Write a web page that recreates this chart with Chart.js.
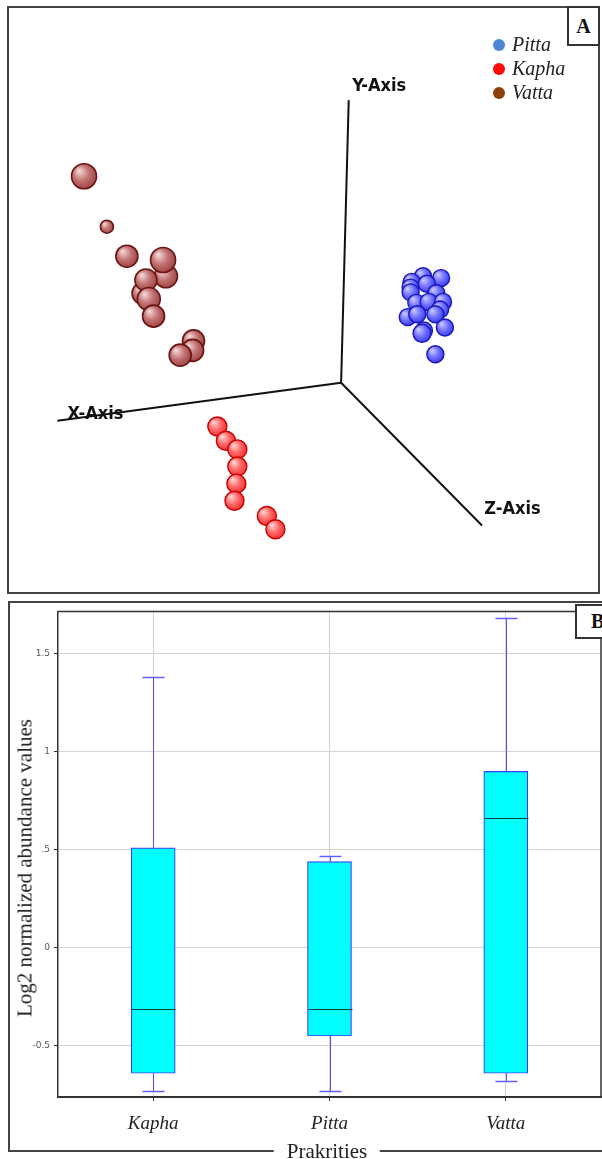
<!DOCTYPE html>
<html>
<head>
<meta charset="utf-8">
<script src="https://cdn.jsdelivr.net/npm/chart.js@4.4.1/dist/chart.umd.min.js"></script>
<style>
html,body{margin:0;padding:0;background:#fff;}
#wrap{position:relative;width:602px;height:1159px;overflow:hidden;background:#fff;}
.abs{position:absolute;box-sizing:border-box;}
#panelA{left:7px;top:6px;width:593px;height:588px;border:2px solid #444;}
#panelB{left:8px;top:601px;width:620px;height:551px;border:2px solid #444;}
#canA{left:9px;top:8px;}
#canB{left:8px;top:602px;}
.tag{background:#fff;border:2px solid #333;font:bold 20px "Liberation Serif","Times New Roman",serif;color:#111;display:flex;align-items:center;justify-content:center;}
.legrow{position:absolute;height:24px;line-height:24px;font:italic 20px "Liberation Serif","Times New Roman",serif;color:#222;white-space:nowrap;}
.dot{position:absolute;width:12px;height:12px;border-radius:50%;}
#ytitle{left:25px;top:868px;transform:translate(-50%,-50%) rotate(-90deg);white-space:nowrap;font:21px "Liberation Serif","Times New Roman",serif;color:#222;}
#xtitle{left:327px;top:1151px;transform:translate(-50%,-50%);white-space:nowrap;font:21px "Liberation Serif","Times New Roman",serif;color:#222;background:#fff;padding:0 13px;line-height:22px;}
</style>
</head>
<body>
<div id="wrap">
  <div id="panelA" class="abs"></div>
  <canvas id="canA" class="abs" width="589" height="583" style="width:589px;height:583px"></canvas>
  <div class="abs tag" style="left:567px;top:6px;width:33px;height:40px;">A</div>
  <div id="legend"></div>

  <div id="panelB" class="abs"></div>
  <canvas id="canB" class="abs" width="594" height="549" style="width:594px;height:549px"></canvas>
  <div class="abs tag" style="left:575px;top:604px;width:44px;height:35px;justify-content:flex-start;padding-left:14px;">B</div>
  <div id="ytitle" class="abs">Log2 normalized abundance values</div>
  <div id="xtitle" class="abs">Prakrities</div>
</div>

<script>
// ---------- Panel A: projected 3D scatter (x, y = projected position, r = ball radius) ----------
const seriesNames = ['Pitta', 'Kapha', 'Vatta'];
const legendColors = ['#4a86d4', '#ff0a0a', '#8b420f'];

const vattaX = [-270, -246, -225, -184, -187, -208, -205, -202, -197, -155, -156, -169];
const vattaY = [217, 164, 133, 112, 129, 94, 108, 88, 70, 44, 34, 29];
const vattaR = [12.5, 6.5, 11, 11.5, 12.5, 11, 11, 11.5, 11, 11, 11, 11];

const kaphaX = [-130, -121, -109, -109, -110, -112, -78, -69];
const kaphaY = [-46, -61, -70, -88, -106, -124, -140, -154];
const kaphaR = [9.5, 9.5, 9.5, 9.5, 9.5, 9.5, 9.5, 9.5];

const pittaX = [86, 105, 74, 73, 73, 90, 100, 79, 92, 107, 104, 70, 80, 99, 109, 87, 85, 99];
const pittaY = [112, 110, 106, 100, 95, 104, 94, 84, 85, 85, 77, 69, 72, 72, 58, 55, 52, 30];
const pittaR = [8.5, 8.5, 8.5, 8.5, 8.5, 8.5, 8.5, 8.5, 8.5, 8.5, 8.5, 8.5, 8.5, 8.5, 8.5, 8.5, 9, 8.5];

const axisNames = ['X-Axis', 'Y-Axis', 'Z-Axis'];
const axisEndX = [-298, 8, 148];
const axisEndY = [-40, 297, -150];
const axisLabelX = [-258, 40, 180];
const axisLabelY = [-33, 312, -133];

// ---------- Panel B: box plot ----------
const categories = ['Kapha', 'Pitta', 'Vatta'];
const catPos = [1, 2, 3];
const whiskerMin = [-0.73, -0.73, -0.68];
const quart1 = [-0.64, -0.45, -0.64];
const median = [-0.31, -0.31, 0.66];
const quart3 = [0.51, 0.44, 0.90];
const whiskerMax = [1.38, 0.47, 1.68];
const yTickValues = [-0.5, 0, 0.5, 1, 1.5];
const yTickLabels = ['-0.5', '0', '.5', '1', '1.5'];

// legend (HTML)
const legend = document.getElementById('legend');
seriesNames.forEach((n, i) => {
  const cy = 45 + i * 24;
  const d = document.createElement('div');
  d.className = 'dot';
  d.style.left = (499 - 6) + 'px';
  d.style.top = (cy - 6) + 'px';
  d.style.background = legendColors[i];
  legend.appendChild(d);
  const t = document.createElement('div');
  t.className = 'legrow';
  t.style.left = '512px';
  t.style.top = (cy - 12) + 'px';
  t.textContent = n;
  legend.appendChild(t);
});

function zip(xs, ys, rs) { return xs.map((x, i) => ({x: x, y: ys[i], r: rs[i]})); }

function ballFill(pal) {
  return function (c) {
    const chart = c.chart;
    const raw = c.raw;
    if (!raw || !chart.scales || !chart.scales.x) return pal.dark;
    const px = chart.scales.x.getPixelForValue(raw.x);
    const py = chart.scales.y.getPixelForValue(raw.y);
    const r = raw.r;
    if (!isFinite(px) || !isFinite(py)) return pal.dark;
    const g = chart.ctx.createRadialGradient(px - r * 0.4, py - r * 0.45, r * 0.05, px - r * 0.1, py - r * 0.1, r * 1.15);
    g.addColorStop(0, pal.light);
    g.addColorStop(0.55, pal.mid);
    g.addColorStop(1, pal.dark);
    return g;
  };
}

const palVatta = {light: '#f2d6d6', mid: '#c07070', dark: '#a04444', border: '#6a1414'};
const palKapha = {light: '#ffd4d4', mid: '#ff6666', dark: '#f23030', border: '#c80000'};
const palPitta = {light: '#c8c8ff', mid: '#7070ff', dark: '#3a3af2', border: '#1818b8'};

const axisDatasets = axisEndX.map((ex, i) => ({
  type: 'line',
  label: axisNames[i],
  data: [{x: 0, y: 0}, {x: ex, y: axisEndY[i]}],
  borderColor: '#111',
  borderWidth: 2,
  pointRadius: 0,
  fill: false,
  order: 10
}));

const axisLabelPlugin = {
  id: 'axisLabels',
  afterDatasetsDraw(chart) {
    const ctx = chart.ctx, sx = chart.scales.x, sy = chart.scales.y;
    ctx.save();
    ctx.font = 'bold 18px "DejaVu Sans Condensed", "DejaVu Sans", sans-serif';
    ctx.fillStyle = '#111';
    ctx.textAlign = 'center';
    ctx.textBaseline = 'middle';
    axisNames.forEach((n, i) => ctx.fillText(n, sx.getPixelForValue(axisLabelX[i]), sy.getPixelForValue(axisLabelY[i])));
    ctx.restore();
  }
};

new Chart(document.getElementById('canA'), {
  type: 'bubble',
  data: {
    datasets: [
      ...axisDatasets,
      {label: 'Vatta', data: zip(vattaX, vattaY, vattaR), backgroundColor: ballFill(palVatta), borderColor: palVatta.border, borderWidth: 1.6, order: 1, clip: false},
      {label: 'Kapha', data: zip(kaphaX, kaphaY, kaphaR), backgroundColor: ballFill(palKapha), borderColor: palKapha.border, borderWidth: 1.4, order: 1, clip: false},
      {label: 'Pitta', data: zip(pittaX, pittaY, pittaR), backgroundColor: ballFill(palPitta), borderColor: palPitta.border, borderWidth: 1.4, order: 1, clip: false}
    ]
  },
  options: {
    responsive: false,
    animation: false,
    events: [],
    layout: {padding: 0},
    plugins: {legend: {display: false}, tooltip: {enabled: false}},
    scales: {
      x: {type: 'linear', min: -334, max: 255, display: false},
      y: {type: 'linear', min: -204, max: 379, display: false}
    }
  },
  plugins: [axisLabelPlugin]
});

// ---------- Panel B chart ----------
const boxPlugin = {
  id: 'boxParts',
  afterDatasetsDraw(chart) {
    const ctx = chart.ctx, sx = chart.scales.x, sy = chart.scales.y;
    ctx.save();
    catPos.forEach((c, i) => {
      const px = Math.round(sx.getPixelForValue(c)) + 0.5;
      const yMax = Math.round(sy.getPixelForValue(whiskerMax[i])) + 0.5;
      const yMin = Math.round(sy.getPixelForValue(whiskerMin[i])) + 0.5;
      // whiskers
      ctx.strokeStyle = '#5050ff';
      ctx.lineWidth = 1;
      ctx.beginPath();
      ctx.moveTo(px, sy.getPixelForValue(quart3[i]));
      ctx.lineTo(px, yMax);
      ctx.moveTo(px, sy.getPixelForValue(quart1[i]));
      ctx.lineTo(px, yMin);
      ctx.stroke();
      ctx.lineWidth = 1.5;
      ctx.strokeStyle = '#6060ff';
      ctx.beginPath();
      ctx.moveTo(px - 11, yMax); ctx.lineTo(px + 11, yMax);
      ctx.moveTo(px - 11, yMin); ctx.lineTo(px + 11, yMin);
      ctx.stroke();
      // median
      const ym = Math.round(sy.getPixelForValue(median[i])) + 0.5;
      ctx.lineWidth = 1;
      ctx.strokeStyle = '#173c3c';
      ctx.beginPath();
      ctx.moveTo(px - 22, ym); ctx.lineTo(px + 22, ym);
      ctx.stroke();
    });
    // frame top and right
    const a = chart.chartArea;
    ctx.strokeStyle = '#333';
    ctx.lineWidth = 1.5;
    ctx.beginPath();
    ctx.moveTo(a.left, a.top); ctx.lineTo(a.right, a.top); ctx.lineTo(a.right, a.bottom);
    ctx.stroke();
    ctx.restore();
  }
};

new Chart(document.getElementById('canB'), {
  type: 'bar',
  data: {
    datasets: [{
      label: 'IQR',
      data: catPos.map((c, i) => ({x: c, y: [quart1[i], quart3[i]]})),
      backgroundColor: '#00ffff',
      borderColor: '#3c3cff',
      borderWidth: 1.2,
      borderSkipped: false,
      barThickness: 44
    }]
  },
  options: {
    responsive: false,
    animation: false,
    events: [],
    layout: {padding: {top: 7, right: 1, left: 0, bottom: 0}},
    plugins: {legend: {display: false}, tooltip: {enabled: false}},
    scales: {
      x: {
        type: 'linear', min: 0.46, max: 3.54, offset: false,
        afterBuildTicks: s => { s.ticks = catPos.map(v => ({value: v})); },
        afterFit: s => { s.height = 54; },
        ticks: {
          callback: v => categories[catPos.indexOf(v)],
          font: {family: '"Liberation Serif","Times New Roman",serif', size: 19, style: 'italic'},
          color: '#222', padding: 12, maxRotation: 0, autoSkip: false
        },
        grid: {color: '#d4d4d4', tickColor: '#333', tickLength: 4, offset: false},
        border: {color: '#333', width: 2}
      },
      y: {
        type: 'linear', min: -0.761, max: 1.716,
        afterBuildTicks: s => { s.ticks = yTickValues.map(v => ({value: v})); },
        afterFit: s => { s.width = 50; },
        ticks: {
          callback: v => yTickLabels[yTickValues.indexOf(v)],
          font: {family: '"DejaVu Sans", sans-serif', size: 9},
          color: '#555', padding: 4
        },
        grid: {color: '#d4d4d4', tickColor: '#333', tickLength: 4},
        border: {color: '#333', width: 1.5}
      }
    }
  },
  plugins: [boxPlugin]
});
</script>
</body>
</html>
